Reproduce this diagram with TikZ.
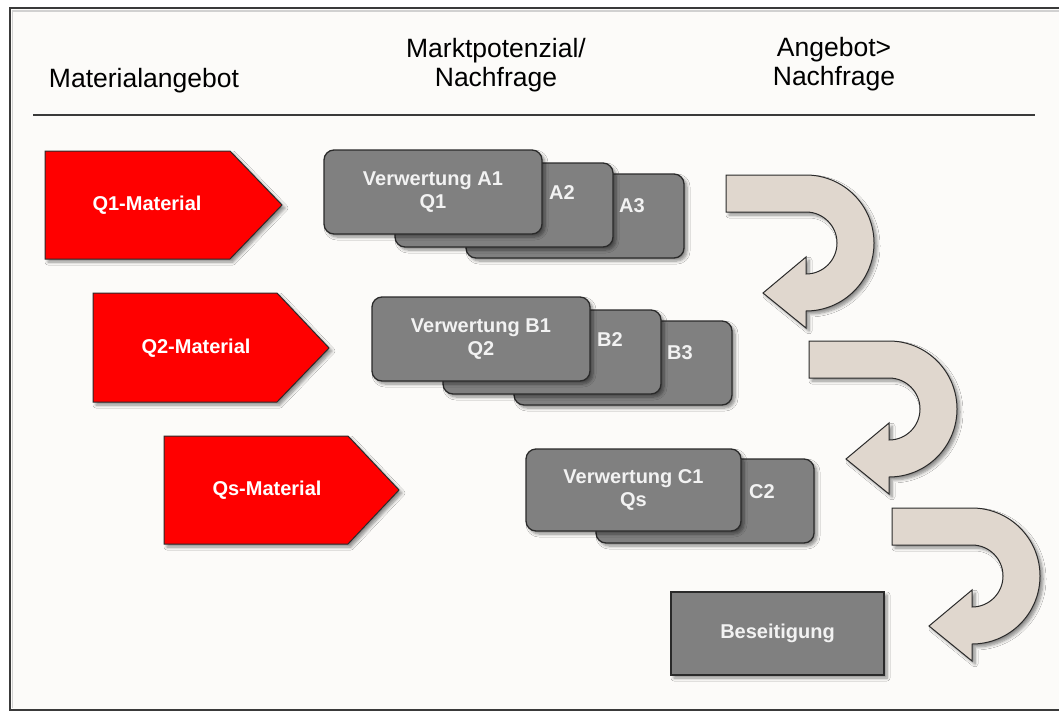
\documentclass[tikz,border=0pt]{standalone}
\usepackage{fontspec}
\setmainfont{Liberation Sans}
\usetikzlibrary{shadows.blur}
\definecolor{bgc}{HTML}{FCFBF9}
\definecolor{framec}{HTML}{3A3A3A}
\definecolor{edgec}{HTML}{2A2A2A}
\definecolor{boxgray}{HTML}{808080}
\definecolor{boxtext}{HTML}{F2F2F2}
\definecolor{beige}{HTML}{E0D7CE}
\definecolor{redc}{HTML}{FF0000}
\tikzset{
  shad/.style={blur shadow={shadow xshift=3pt, shadow yshift=-3pt, shadow blur radius=3pt, shadow blur steps=6, shadow opacity=45}},
  header/.style={font=\fontsize{26.5}{29}\selectfont, text=black, align=center, inner sep=0pt},
  redshape/.style={fill=redc, draw=edgec, line width=1pt, shad},
  redtext/.style={font=\fontsize{20}{23}\selectfont\bfseries, text=white, inner sep=0pt},
  graybox/.style={fill=boxgray, draw=edgec, line width=1.3pt, rounded corners=10pt, minimum width=218pt, minimum height=84pt, inner sep=0pt, shad, font=\fontsize{20}{23}\selectfont\bfseries, text=boxtext, align=center},
  sqbox/.style={fill=boxgray, draw=edgec, line width=1.3pt, minimum width=213pt, minimum height=83pt, inner sep=0pt, shad, font=\fontsize{20}{23}\selectfont\bfseries, text=boxtext},
  boxlabel/.style={font=\fontsize{20}{23}\selectfont\bfseries, text=boxtext, inner sep=0pt},
  turnarrow/.style={fill=beige, draw=edgec, line width=1pt, shad}
}
\begin{document}
\begin{tikzpicture}[x=1pt,y=1pt]
\useasboundingbox (0,0) rectangle (1059,-712);
\fill[white] (0,0) rectangle (1059,-712);
% frame
\fill[bgc] (10,-8) rectangle (1059,-710);
\draw[black!18, line width=1.5pt] (12,-11) -- (1059,-11);
\draw[black!18, line width=1.5pt] (12.5,-11) -- (12.5,-708);
\draw[framec, line width=2.5pt] (1059,-8) -- (10,-8) -- (10,-710) -- (1059,-710);
% headers
\node[header] (h1) at (144,-81) {Materialangebot};
\node[header] (h2) at (496,-65) {Marktpotenzial/\\Nachfrage};
\node[header] (h3) at (834,-64) {Angebot>\\Nachfrage};
\coordinate (rl) at (33,-115);
\coordinate (rr) at (1035,-115);
\draw[framec, line width=2pt] (rl) -- (rr);
% red pentagons
\draw[redshape] (45,-151) -- (230,-151) -- (282,-205) -- (230,-259) -- (45,-259) -- cycle;
\node[redtext] (q1) at (147,-205) {Q1-Material};
\draw[redshape] (93,-293) -- (277,-293) -- (329,-348) -- (277,-402) -- (93,-402) -- cycle;
\node[redtext] (q2) at (196,-348) {Q2-Material};
\draw[redshape] (164,-436) -- (348,-436) -- (399,-490) -- (348,-544) -- (164,-544) -- cycle;
\node[redtext] (qs) at (267,-490) {Qs-Material};
% A group
\node[graybox] (a3) at (575,-216) {};
\node[graybox] (a2) at (504,-205) {};
\node[graybox] (a1) at (433,-192) {Verwertung A1\\Q1};
\node[boxlabel] (la2) at (562,-193) {A2};
\node[boxlabel] (la3) at (632,-206) {A3};
% B group
\node[graybox] (b3) at (623,-363) {};
\node[graybox] (b2) at (552,-352) {};
\node[graybox] (b1) at (481,-339) {Verwertung B1\\Q2};
\node[boxlabel] (lb2) at (610,-340) {B2};
\node[boxlabel] (lb3) at (680,-353) {B3};
% C group
\node[graybox] (c2) at (705,-501) {};
\node[graybox, minimum width=215pt, minimum height=82pt] (c1) at (633.5,-490) {Verwertung C1\\Qs};
\node[boxlabel] (lc2) at (762,-492) {C2};
% disposal
\node[sqbox] (bes) at (777.5,-633.5) {Beseitigung};
% turn arrows
\foreach \dx/\dy in {0/0, 83/166, 166/333}{
\begin{scope}[shift={(\dx,-\dy)}]
\draw[turnarrow] (726,-175) -- (806,-175) arc[start angle=90, end angle=-90, radius=68pt]
  -- (806,-328) -- (763,-293) -- (806,-257) -- (806,-274)
  arc[start angle=-90, end angle=90, radius=31pt] -- (726,-212) -- cycle;
\end{scope}
}
\end{tikzpicture}
\end{document}
